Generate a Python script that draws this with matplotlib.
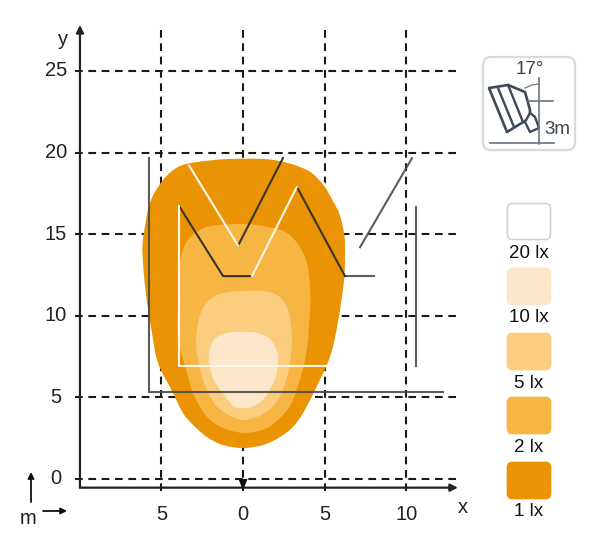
import numpy as np
import matplotlib
matplotlib.use('Agg')
from matplotlib import pyplot as plt
from matplotlib.path import Path
from matplotlib.patches import PathPatch, FancyBboxPatch, Polygon

plt.rcParams['font.family'] = ['Liberation Sans', 'DejaVu Sans']

W, H = 591, 549
SCALE = 16.32      # px per metre
X0, Y0 = 243, 479  # px of the origin

x_ticks = [-5, 0, 5, 10]
x_tick_labels = ['5', '0', '5', '10']
y_ticks = [0, 5, 10, 15, 20, 25]

# isolux outlines in metres
lux_1_x = [0.0, -1.23, -2.21, -3.06, -3.68, -4.29, -5.21, -5.58, -5.94, -6.13, -6.13, -5.70, -4.90, -3.98, -2.82, -0.80, 1.84, 3.92, 5.02, 5.82, 6.19, 6.25, 6.19, 5.82, 5.33, 4.41, 3.68, 3.06, 2.27, 1.23]
lux_1_y = [1.90, 2.08, 2.57, 3.31, 4.04, 5.27, 7.11, 8.95, 11.27, 13.30, 14.64, 16.91, 18.32, 19.12, 19.42, 19.61, 19.55, 18.93, 17.89, 16.48, 15.07, 14.03, 12.19, 9.62, 7.48, 5.45, 4.04, 3.19, 2.57, 2.08]

lux_2_x = [0.12, -1.23, -2.14, -2.63, -3.06, -3.43, -3.98, -3.98, -3.86, -3.37, -2.21, -0.37, 0.86, 2.70, 3.80, 4.11, 4.04, 3.80, 3.06, 2.45, 1.47]
lux_2_y = [2.82, 3.13, 3.74, 4.41, 5.27, 6.50, 8.70, 10.97, 13.24, 14.64, 15.44, 15.62, 15.56, 15.07, 13.60, 11.58, 9.31, 7.29, 4.84, 3.92, 3.13]

lux_5_x = [0.0, -1.10, -1.90, -2.57, -2.88, -2.51, -1.59, 0.0, 1.16, 2.08, 2.76, 3.0, 2.76, 2.14, 1.23]
lux_5_y = [3.62, 4.05, 4.84, 6.50, 8.52, 10.36, 11.28, 11.52, 11.52, 11.28, 10.36, 8.52, 6.50, 4.84, 3.98]

lux_10_x = [0.25, -0.49, -0.92, -1.78, -2.08, -1.90, -1.40, -0.67, 0.25, 0.92, 1.66, 2.08, 2.14, 1.96, 1.35, 0.80]
lux_10_y = [4.35, 4.41, 4.84, 6.07, 7.29, 8.33, 8.82, 9.0, 9.0, 8.94, 8.58, 7.84, 7.2, 6.13, 5.0, 4.55]

lux_outlines = [(lux_1_x, lux_1_y), (lux_2_x, lux_2_y), (lux_5_x, lux_5_y), (lux_10_x, lux_10_y)]
lux_colors = ['#E99305', '#F7B544', '#FBCE7F', '#FDE7CB']

legend_labels = ['20 lx', '10 lx', '5 lx', '2 lx', '1 lx']
legend_colors = ['#FFFFFF', '#FDE7CB', '#FBCE7F', '#F7B544', '#E99305']
legend_tops = [204, 269, 334, 398, 463]

# field markings in metres
white_lines = [
    ([-3.92, -3.92, 5.1], [16.73, 6.9, 6.9]),
    ([-3.3, -0.3], [19.2, 14.3]),
    ([0.55, 3.3], [12.43, 17.9]),
    ([5.0, 5.85], [18.1, 16.55]),
]
dark_lines = [
    ([-3.92, -1.22, 0.55], [16.73, 12.43, 12.43]),
    ([-0.3, 2.45], [14.3, 19.67]),
    ([3.3, 6.25], [17.9, 12.43]),
]
grey_lines = [
    ([-5.76, -5.76, 12.25], [19.65, 5.35, 5.35]),
    ([6.25, 8.03], [12.43, 12.43]),
    ([7.17, 10.35], [14.2, 19.65]),
    ([10.6, 10.6], [16.67, 6.92]),
]


def smooth_closed(xs, ys):
    # closed catmull-rom through the read points
    pts = np.column_stack([xs, ys])
    n = len(pts)
    verts = [pts[0]]
    codes = [Path.MOVETO]
    for i in range(n):
        p0, p1, p2, p3 = pts[i - 1], pts[i], pts[(i + 1) % n], pts[(i + 2) % n]
        verts += [p1 + (p2 - p0) / 6, p2 - (p3 - p1) / 6, p2]
        codes += [Path.CURVE4] * 3
    return Path(verts, codes)


fig = plt.figure(figsize=(W / 100, H / 100), dpi=100)
ax = fig.add_axes([0, 0, 1, 1])
ax.set_xlim(-X0 / SCALE, (W - X0) / SCALE)
ax.set_ylim((Y0 - H) / SCALE, Y0 / SCALE)
ax.axis('off')

# grid under the light pattern
dash = (0, (3.7, 2.7))
for t in x_ticks:
    ax.plot([t, t], [27.5, -0.8], color='#1A1A1A', lw=1.5, ls=dash, zorder=1)
for t in y_ticks:
    ax.plot([-10.3, 13.05], [t, t], color='#1A1A1A', lw=1.5, ls=dash, zorder=1)

for (xs, ys), c in zip(lux_outlines, lux_colors):
    ax.add_patch(PathPatch(smooth_closed(xs, ys), fc=c, ec='none', zorder=2))

# markings
for xs, ys in grey_lines:
    ax.plot(xs, ys, color='#4A4A4A', lw=1.5, alpha=0.9, zorder=3, solid_joinstyle='miter')
for xs, ys in dark_lines:
    ax.plot(xs, ys, color='#3A3328', lw=1.5, zorder=3)
for xs, ys in white_lines:
    ax.plot(xs, ys, color='#FFF6E6', lw=1.5, zorder=3)

# axes with arrow heads
arrow = dict(arrowstyle='-|>', color='#222222', lw=1.6, shrinkA=0, shrinkB=0, mutation_scale=11)
ax.annotate('', xy=(-9.99, 27.82), xytext=(-9.99, -0.53), zorder=4, arrowprops=arrow)
ax.annotate('', xy=(13.17, -0.53), xytext=(-9.99, -0.53), zorder=4, arrowprops=arrow)
ax.add_patch(Polygon([(-0.28, 0.0), (0.28, 0.0), (0, -0.7)], fc='#111111', ec='none', zorder=5))

label_size = 14.5
for t, s in zip(x_ticks, x_tick_labels):
    ax.text(t, -2.15, s, ha='center', va='center', fontsize=label_size, color='#222222')
for t in y_ticks:
    ax.text(-11.46, t, str(t), ha='center', va='center', fontsize=label_size, color='#222222')
ax.text(-11.0, 26.95, 'y', ha='center', va='center', fontsize=label_size, color='#222222')
ax.text(13.45, -1.77, 'x', ha='center', va='center', fontsize=label_size, color='#222222')

# m arrows
small = dict(arrowstyle='-|>', color='#111111', lw=1.3, shrinkA=0, shrinkB=0, mutation_scale=9)
ax.annotate('', xy=(-12.99, 0.43), xytext=(-12.99, -1.41), arrowprops=small)
ax.annotate('', xy=(-10.78, -1.96), xytext=(-12.25, -1.96), arrowprops=small)
ax.text(-13.17, -2.45, 'm', ha='center', va='center', fontsize=label_size, color='#222222')

# overlay in pixel coordinates for legend and icon
ov = fig.add_axes([0, 0, 1, 1])
ov.set_xlim(0, W)
ov.set_ylim(H, 0)
ov.axis('off')
ov.patch.set_alpha(0)

for lab, c, top in zip(legend_labels, legend_colors, legend_tops):
    ec = '#D2D2D2' if c == '#FFFFFF' else c
    ov.add_patch(FancyBboxPatch((507.5, top - 0.5), 43, 36, boxstyle='round,pad=0,rounding_size=5',
                                fc=c, ec=ec, lw=1.2))
    ov.text(529, top + 49, lab, ha='center', va='center', fontsize=13.5, color='#111111')

# mounting icon
ink = '#3E4A58'
ov.add_patch(FancyBboxPatch((483, 57), 92, 93, boxstyle='round,pad=0,rounding_size=8',
                            fc='white', ec='#DADADA', lw=1.6))
ov.add_patch(Polygon([(489, 88), (508, 85), (525, 92), (530, 110), (530, 118), (520, 124), (507, 132)],
                     fc='white', ec=ink, lw=1.9, joinstyle='round'))
ov.plot([498, 514], [88, 127], color=ink, lw=1.7)
ov.plot([508, 523], [85, 122], color=ink, lw=1.7)
ov.add_patch(Polygon([(525, 122), (530, 113), (535, 117), (539, 128), (530, 132)],
                     fc='white', ec=ink, lw=1.7, joinstyle='round'))
ov.plot([539, 539], [78, 144], color='#6A7480', lw=1.2)
ov.plot([528, 553], [101, 101], color='#6A7480', lw=1.2)
ov.plot([490, 554], [143, 143], color='#6A7480', lw=1.2)
ov.plot([525, 532, 539], [88, 85, 84], color='#6A7480', lw=0.9)
ov.text(530, 70, '17°', ha='center', va='center', fontsize=13.5, color='#3A4450')
ov.text(557, 129, '3m', ha='center', va='center', fontsize=13.5, color='#3A4450')

fig.savefig('out.png', dpi=100)
